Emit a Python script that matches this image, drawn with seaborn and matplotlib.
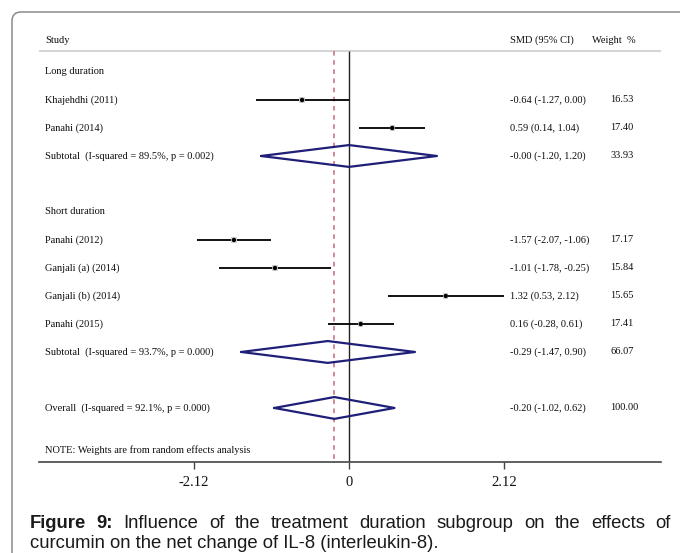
import matplotlib
matplotlib.use("Agg")
import matplotlib.pyplot as plt
import seaborn as sns
import pandas as pd
from matplotlib.patches import FancyBboxPatch

# Study-level results (SMD, 95% CI, weight %)
studies = ["Khajehdhi (2011)", "Panahi (2014)", "Panahi (2012)",
           "Ganjali (a) (2014)", "Ganjali (b) (2014)", "Panahi (2015)"]
smd = [-0.64, 0.59, -1.57, -1.01, 1.32, 0.16]
ci_lo = [-1.27, 0.14, -2.07, -1.78, 0.53, -0.28]
ci_hi = [0.00, 1.04, -1.06, -0.25, 2.12, 0.61]
weights = ["16.53", "17.40", "17.17", "15.84", "15.65", "17.41"]
study_rows = [2, 3, 7, 8, 9, 10]

# Pooled estimates
pooled_labels = ["Subtotal  (I-squared = 89.5%, p = 0.002)",
                 "Subtotal  (I-squared = 93.7%, p = 0.000)",
                 "Overall  (I-squared = 92.1%, p = 0.000)"]
pooled_est = [-0.00, -0.29, -0.20]
pooled_lo = [-1.20, -1.47, -1.02]
pooled_hi = [1.20, 0.90, 0.62]
pooled_w = ["33.93", "66.07", "100.00"]
pooled_rows = [4, 11, 13]

groups = ["Long duration", "Short duration"]
group_rows = [1, 6]

overall_effect = -0.20
xticks = [-2.12, 0, 2.12]
xtick_labels = ["-2.12", "0", "2.12"]

df = pd.DataFrame({"study": studies, "smd": smd, "lo": ci_lo, "hi": ci_hi,
                   "weight": weights, "row": study_rows})

sns.set_style("white")
plt.rcParams["font.family"] = ["Liberation Serif", "DejaVu Serif"]

W, H = 680, 553
fig = plt.figure(figsize=(W / 100, H / 100), dpi=100)
ax = fig.add_axes([39 / W, 1 - 462 / H, 622 / W, 432 / H])
ax.set_xlim(-4.229, 4.256)
ax.set_ylim(14.93, -0.5)

txt = dict(fontsize=7.5, color="#0d0d0d", va="center")
col_label, col_smd, col_w = -4.147, 2.196, 3.561

# header
ax.text(col_label, -0.14, "Study", **txt)
ax.text(col_smd, -0.14, "SMD (95% CI)", **txt)
ax.text(3.315, -0.14, "Weight  %", **txt)
ax.axhline(0.25, color="#d6d6d6", lw=1.5)

# reference lines
ax.vlines(0, 0.25, 14.93, color="#222222", lw=1.0)
ax.vlines(overall_effect, 0.25, 14.93, color="#c46a76", lw=1.1,
          linestyles=(0, (3, 3)))

for g, r in zip(groups, group_rows):
    ax.text(col_label, r, g, **txt)

# individual studies
ax.hlines(df["row"], df["lo"], df["hi"], color="black", lw=1.3)
sns.scatterplot(data=df, x="smd", y="row", marker="s", s=14, color="#d4d4d4",
                edgecolor="none", ax=ax, legend=False, zorder=3)
sns.scatterplot(data=df, x="smd", y="row", marker="o", s=10, color="black",
                edgecolor="none", ax=ax, legend=False, zorder=4)
for _, r in df.iterrows():
    ax.text(col_label, r["row"], r["study"], **txt)
    ax.text(col_smd, r["row"], f"{r['smd']:.2f} ({r['lo']:.2f}, {r['hi']:.2f})", **txt)
    ax.text(col_w, r["row"], r["weight"], **txt)

# pooled diamonds
for lab, e, lo, hi, w, r in zip(pooled_labels, pooled_est, pooled_lo, pooled_hi,
                                pooled_w, pooled_rows):
    ax.plot([lo, e, hi, e, lo], [r, r - 0.39, r, r + 0.39, r],
            color="#1f1f78", lw=1.6, zorder=5)
    ax.text(col_label, r, lab, **txt)
    ax.text(col_smd, r, f"{e:.2f} ({lo:.2f}, {hi:.2f})", **txt)
    ax.text(col_w, r, w, **txt)

ax.text(col_label, 14.5, "NOTE: Weights are from random effects analysis", **txt)

ax.set_xticks(xticks)
ax.set_xticklabels(xtick_labels, fontsize=10.5, color="#111111")
ax.set_yticks([])
ax.tick_params(axis="x", length=5, width=1, color="#444444", pad=5, bottom=True)
for s in ["top", "left", "right"]:
    ax.spines[s].set_visible(False)
ax.spines["bottom"].set_color("#444444")
ax.spines["bottom"].set_linewidth(1.2)
ax.set_xlabel("")
ax.set_ylabel("")

# rounded frame
frame = FancyBboxPatch((0.12, -1.0), 7.5, 5.41 + 1.0,
                       boxstyle="round,pad=0,rounding_size=0.09",
                       transform=fig.dpi_scale_trans, fill=False,
                       edgecolor="#8c8c8c", lw=1.1)
fig.add_artist(frame)

# caption, first line justified
cap = dict(fontsize=13.3, color="#1a1a1a", family=["Liberation Sans", "DejaVu Sans"])
line1 = [("Figure", "bold"), ("9:", "bold"), ("Influence", "normal"), ("of", "normal"),
         ("the", "normal"), ("treatment", "normal"), ("duration", "normal"),
         ("subgroup", "normal"), ("on", "normal"), ("the", "normal"),
         ("effects", "normal"), ("of", "normal")]
line2 = "curcumin on the net change of IL-8 (interleukin-8)."
renderer = fig.canvas.get_renderer()
widths = []
for w, wt in line1:
    t = fig.text(0, 0, w, fontweight=wt, **cap)
    widths.append(t.get_window_extent(renderer).width)
    t.remove()
left, right = 30, 671
gap = (right - left - sum(widths)) / (len(line1) - 1)
x = left
for (w, wt), wd in zip(line1, widths):
    fig.text(x / W, 1 - 528 / H, w, fontweight=wt, va="baseline", **cap)
    x += wd + gap
fig.text(left / W, 1 - 548 / H, line2, va="baseline", **cap)

fig.savefig("out.png", dpi=100)
